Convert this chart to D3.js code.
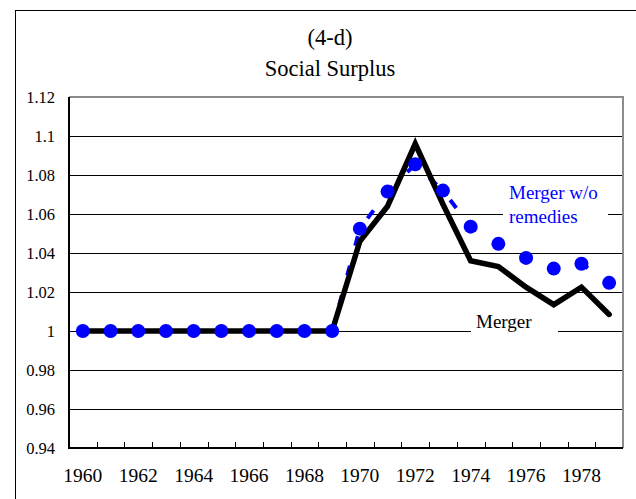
<!DOCTYPE html>
<html>
<head>
<meta charset="utf-8">
<script src="https://cdn.jsdelivr.net/npm/d3@7"></script>
<style>
  body { margin: 0; background: #fff; }
</style>
</head>
<body>
<div id="chart"></div>
<script>
// chart values
var years = [1960, 1961, 1962, 1963, 1964, 1965, 1966, 1967, 1968, 1969,
             1970, 1971, 1972, 1973, 1974, 1975, 1976, 1977, 1978, 1979];
var merger = [1, 1, 1, 1, 1, 1, 1, 1, 1, 1,
              1.046, 1.064, 1.096, 1.065, 1.036, 1.033, 1.0225, 1.0135, 1.0225, 1.0085];
var mergerNoRemedies = [1, 1, 1, 1, 1, 1, 1, 1, 1, 1,
                        1.0525, 1.0715, 1.0855, 1.072, 1.0535, 1.0447, 1.0375, 1.032, 1.0345, 1.0247];
var yTicks = [0.94, 0.96, 0.98, 1, 1.02, 1.04, 1.06, 1.08, 1.1, 1.12];
var xLabels = [1960, 1962, 1964, 1966, 1968, 1970, 1972, 1974, 1976, 1978];

var width = 636, height = 499;
var plotLeft = 69, plotRight = 623, plotTop = 97, plotBottom = 448;
var serif = 'Liberation Serif';

var svg = d3.select('#chart').append('svg')
    .attr('width', width)
    .attr('height', height);

// outer chart frame (cut off at right and bottom)
svg.append('rect')
    .attr('x', 15.5).attr('y', 10.5)
    .attr('width', 700).attr('height', 600)
    .attr('fill', 'none').attr('stroke', '#000').attr('stroke-width', 1);

var x = d3.scaleBand().domain(years).range([plotLeft, plotRight]);
var y = d3.scaleLinear().domain([0.94, 1.12]).range([plotBottom, plotTop]);
var cx = function (d, i) { return x(years[i]) + x.bandwidth() / 2; };

// titles
svg.append('text').attr('x', 330).attr('y', 45)
    .attr('text-anchor', 'middle').attr('font-size', 22.5).text('(4-d)');
svg.append('text').attr('x', 330).attr('y', 76)
    .attr('text-anchor', 'middle').attr('font-size', 22.5).text('Social Surplus');

// gridlines
svg.append('g').selectAll('line')
    .data(yTicks.filter(function (t) { return t > 0.94 && t < 1.12; }))
    .enter().append('line')
    .attr('x1', plotLeft).attr('x2', plotRight)
    .attr('y1', function (d) { return Math.round(y(d)) + 0.5; })
    .attr('y2', function (d) { return Math.round(y(d)) + 0.5; })
    .attr('stroke', '#000').attr('stroke-width', 1);

// top and right frame of the plot area (grey)
svg.append('path')
    .attr('d', 'M' + plotLeft + ',' + y(1.12) + 'H' + plotRight + 'V' + y(0.94))
    .attr('fill', 'none').attr('stroke', '#8c8c8c').attr('stroke-width', 2);

// y axis labels
var yAxis = d3.axisLeft(y).tickValues(yTicks).tickSize(0).tickPadding(14)
    .tickFormat(function (d) { return String(+d.toFixed(2)); });
var gy = svg.append('g').attr('transform', 'translate(' + plotLeft + ',0)').call(yAxis);
gy.select('.domain').remove();
gy.selectAll('text').attr('font-size', 16.5).attr('fill', '#000');

// x axis labels
var xAxis = d3.axisBottom(x).tickValues(xLabels).tickSize(0).tickPadding(20);
var gx = svg.append('g').attr('transform', 'translate(0,' + plotBottom + ')').call(xAxis);
gx.select('.domain').remove();
gx.selectAll('text').attr('font-size', 19.5).attr('fill', '#000');

// x tick marks on the band boundaries, pointing up
var bounds = years.map(function (yr) { return x(yr); });
svg.append('g').selectAll('line')
    .data(bounds.slice(1))
    .enter().append('line')
    .attr('x1', function (d) { return Math.round(d) + 0.5; })
    .attr('x2', function (d) { return Math.round(d) + 0.5; })
    .attr('y1', plotBottom).attr('y2', plotBottom - 6)
    .attr('stroke', '#000').attr('stroke-width', 1);

// left and bottom axis lines
svg.append('path')
    .attr('d', 'M' + plotLeft + ',' + y(1.12) + 'V' + plotBottom + 'H' + plotRight)
    .attr('fill', 'none').attr('stroke', '#000').attr('stroke-width', 2);

// series label boxes (white, cutting through gridlines)
svg.append('rect').attr('x', 503).attr('y', 180).attr('width', 105).attr('height', 48).attr('fill', '#fff');
svg.append('rect').attr('x', 471).attr('y', 312).attr('width', 87).attr('height', 26).attr('fill', '#fff');

var line = d3.line()
    .x(cx)
    .y(function (d) { return y(d); });

// Merger w/o remedies: dashed blue line (mostly hidden under the markers)
svg.append('path')
    .datum(mergerNoRemedies)
    .attr('d', line)
    .attr('fill', 'none')
    .attr('stroke', '#0000ff')
    .attr('stroke-width', 4)
    .attr('stroke-dasharray', '10,20.6')
    .attr('stroke-dashoffset', -1);

// Merger: thick black line
svg.append('path')
    .datum(merger)
    .attr('d', line)
    .attr('fill', 'none')
    .attr('stroke', '#000')
    .attr('stroke-width', 5.5)
    .attr('stroke-linejoin', 'miter')
    .attr('stroke-linecap', 'round');

// blue markers
svg.append('g').selectAll('circle')
    .data(mergerNoRemedies)
    .enter().append('circle')
    .attr('cx', cx)
    .attr('cy', function (d) { return y(d); })
    .attr('r', 7)
    .attr('fill', '#0000ff');

// labels
svg.append('text').attr('x', 509).attr('y', 199).attr('font-size', 19).attr('fill', '#0000ff').text('Merger w/o');
svg.append('text').attr('x', 509).attr('y', 223).attr('font-size', 19).attr('fill', '#0000ff').text('remedies');
svg.append('text').attr('x', 476).attr('y', 328).attr('font-size', 19).attr('fill', '#000').text('Merger');

// every text in the serif face
svg.selectAll('text').style('font-family', serif);
</script>
</body>
</html>
